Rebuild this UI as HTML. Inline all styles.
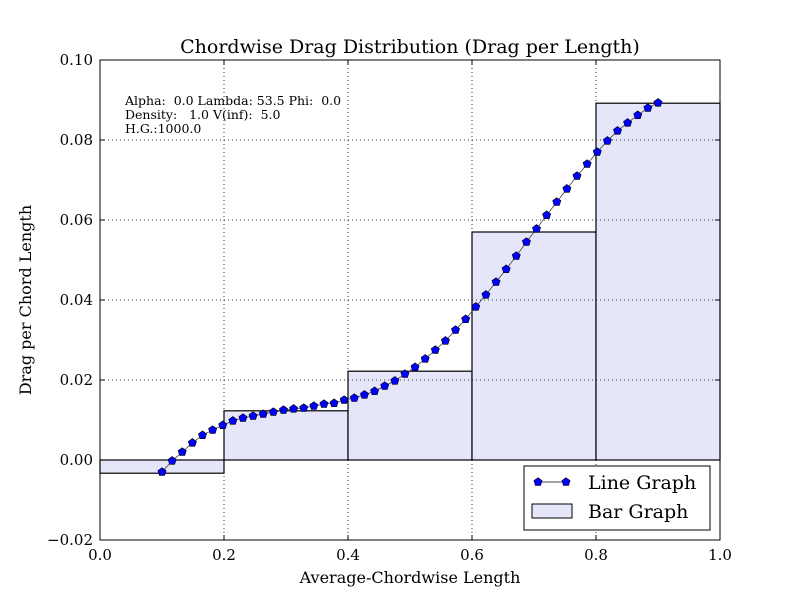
<!DOCTYPE html>
<html><head><meta charset="utf-8"><style>
body{margin:0;background:#fff}
svg{font-family:"DejaVu Serif","Liberation Serif",serif}
.pre{white-space:pre}
</style></head><body>
<svg id="c" width="800" height="600" viewBox="0 0 800 600">
<rect width="800" height="600" fill="#fff"/>
<g id="plot"></g>
</svg>
<script>
const xTicks=[0,0.2,0.4,0.6,0.8,1.0];
const xTickLabels=["0.0","0.2","0.4","0.6","0.8","1.0"];
const yTicks=[-0.02,0,0.02,0.04,0.06,0.08,0.10];
const yTickLabels=["\u22120.02","0.00","0.02","0.04","0.06","0.08","0.10"];
const barEdges=[0,0.2,0.4,0.6,0.8,1.0];
const barValues=[-0.0033,0.0123,0.0222,0.057,0.0892];
const lineValues=[-0.003,-0.0002,0.002,0.0043,0.0062,0.0075,0.0087,0.0098,0.0105,0.011,0.0115,0.012,0.0125,0.0128,0.013,0.0135,0.014,0.0142,0.015,0.0155,0.0163,0.0172,0.0185,0.0198,0.0215,0.0232,0.0253,0.0275,0.0298,0.0325,0.0352,0.0383,0.0413,0.0445,0.0477,0.051,0.0545,0.0578,0.0612,0.0645,0.0678,0.071,0.074,0.077,0.0798,0.0823,0.0843,0.0862,0.088,0.0893];
const lineXStart=0.1, lineXEnd=0.9;

const NS="http://www.w3.org/2000/svg";
const g=document.getElementById('plot');
const L=100,R=720,T=60,B=540;
const sx=v=>L+(v-0)/(1-0)*(R-L);
const sy=v=>B-(v+0.02)/0.12*(B-T);
function el(t,a,p){const e=document.createElementNS(NS,t);for(const k in a)e.setAttribute(k,a[k]);(p||g).appendChild(e);return e;}
barValues.forEach((v,i)=>{
 const x0=sx(barEdges[i]),x1=sx(barEdges[i+1]),y0=sy(0),y1=sy(v);
 const r=el('rect',{x:x0,y:Math.min(y0,y1),width:x1-x0,height:Math.abs(y1-y0),fill:'#e6e6fa',stroke:'#000','stroke-width':1.2});
 
 
});
xTicks.forEach(v=>{if(v>0&&v<1){const l=el('line',{x1:sx(v),x2:sx(v),y1:T,y2:B,stroke:'#000','stroke-dasharray':'1,3','stroke-width':0.8});}});
yTicks.forEach(v=>{if(v>-0.02&&v<0.1){const l=el('line',{x1:L,x2:R,y1:sy(v),y2:sy(v),stroke:'#000','stroke-dasharray':'1,3','stroke-width':0.8});}});
const n=lineValues.length;
const pts=lineValues.map((v,i)=>[sx(lineXStart+(lineXEnd-lineXStart)*i/(n-1)),sy(v)]);
const pl=el('polyline',{points:pts.map(p=>p.join(',')).join(' '),fill:'none',stroke:'#444','stroke-width':0.8});


function pent(cx,cy,r){let s=[];for(let k=0;k<5;k++){const a=-Math.PI/2+k*2*Math.PI/5;s.push((cx+r*Math.cos(a)).toFixed(2)+','+(cy+r*Math.sin(a)).toFixed(2));}return s.join(' ');}
pts.forEach(p=>{const m=el('polygon',{points:pent(p[0],p[1],4.3),fill:'#0000ff',stroke:'#000','stroke-width':0.6});});
const fr=el('rect',{x:L,y:T,width:R-L,height:B-T,fill:'none',stroke:'#000','stroke-width':1});

xTicks.forEach((v,i)=>{el('line',{x1:sx(v),x2:sx(v),y1:B,y2:B-5,stroke:'#000'});el('line',{x1:sx(v),x2:sx(v),y1:T,y2:T+5,stroke:'#000'});
 const t=el('text',{x:sx(v),y:B+20,'text-anchor':'middle','font-size':15});t.textContent=xTickLabels[i];});
yTicks.forEach((v,i)=>{el('line',{x1:L,x2:L+5,y1:sy(v),y2:sy(v),stroke:'#000'});el('line',{x1:R,x2:R-5,y1:sy(v),y2:sy(v),stroke:'#000'});
 const t=el('text',{x:L-7,y:sy(v)+5,'text-anchor':'end','font-size':15});t.textContent=yTickLabels[i];});
let t=el('text',{x:410,y:53,'text-anchor':'middle','font-size':19});t.textContent='Chordwise Drag Distribution (Drag per Length)';
t=el('text',{x:410,y:583,'text-anchor':'middle','font-size':16});t.textContent='Average-Chordwise Length';
t=el('text',{x:31,y:300,'text-anchor':'middle','font-size':16,transform:'rotate(-90 31 300)'});t.textContent='Drag per Chord Length';
['Alpha:  0.0 Lambda: 53.5 Phi:  0.0','Density:   1.0 V(inf):  5.0','H.G.:1000.0'].forEach((s,i)=>{const a=el('text',{x:125,y:105+i*14,'font-size':12.5,'class':'pre'});a.textContent=s;});
const lg=el('g',{});
el('rect',{x:524,y:466,width:186,height:64,fill:'#fff',stroke:'#000'},lg);
el('line',{x1:538,x2:566,y1:482,y2:482,stroke:'#444'},lg);
el('polygon',{points:pent(538,482,4.3),fill:'#00f',stroke:'#000','stroke-width':0.6},lg);
el('polygon',{points:pent(566,482,4.3),fill:'#00f',stroke:'#000','stroke-width':0.6},lg);
el('rect',{x:532,y:504,width:40,height:14,fill:'#e6e6fa',stroke:'#000'},lg);
t=el('text',{x:588,y:489,'font-size':19},lg);t.textContent='Line Graph';
t=el('text',{x:588,y:518,'font-size':19},lg);t.textContent='Bar Graph';
</script>
</body></html>
